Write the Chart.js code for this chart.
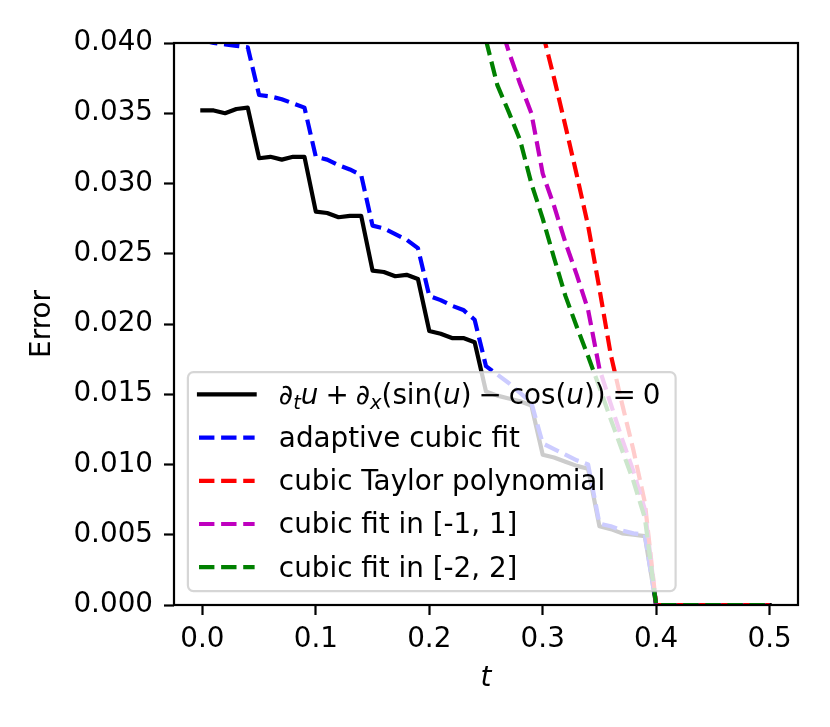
<!DOCTYPE html>
<html>
<head>
<meta charset="utf-8">
<script src="https://cdn.jsdelivr.net/npm/chart.js@4.4.0/dist/chart.umd.min.js"></script>
<style>
  html, body { margin: 0; padding: 0; background: #ffffff; }
  #wrap { width: 830px; height: 727px; }
</style>
</head>
<body>
<div id="wrap"><canvas id="errorChart"></canvas></div>
<script>
// ============================================================================
// DATA
// ============================================================================

const tValues = [
  0.00, 0.01, 0.02, 0.03, 0.04, 0.05, 0.06, 0.07, 0.08, 0.09,
  0.10, 0.11, 0.12, 0.13, 0.14, 0.15, 0.16, 0.17, 0.18, 0.19,
  0.20, 0.21, 0.22, 0.23, 0.24, 0.25, 0.26, 0.27, 0.28, 0.29,
  0.30, 0.31, 0.32, 0.33, 0.34, 0.35, 0.36, 0.37, 0.38, 0.39,
  0.40, 0.41, 0.42, 0.43, 0.44, 0.45, 0.46, 0.47, 0.48, 0.49, 0.50
];

// exact PDE solution error
const exactErr = [
  0.0352, 0.0352, 0.0350, 0.0353, 0.0354, 0.0318, 0.0319, 0.0317, 0.0319, 0.0319,
  0.0280, 0.0279, 0.0276, 0.0277, 0.0277, 0.0238, 0.0237, 0.0234, 0.0235, 0.0232,
  0.0195, 0.0193, 0.0190, 0.0190, 0.0187, 0.0152, 0.0149, 0.0147, 0.0145, 0.0142,
  0.0107, 0.0105, 0.0102, 0.0099, 0.0097, 0.0056, 0.0054, 0.0051, 0.0050, 0.0049,
  0, 0, 0, 0, 0, 0, 0, 0, 0, 0, 0
];

const adaptiveErr = [
  0.0402, 0.0400, 0.0399, 0.0398, 0.0397, 0.0363, 0.0362, 0.0360, 0.0357, 0.0354,
  0.0319, 0.0317, 0.0313, 0.0310, 0.0306, 0.0270, 0.0268, 0.0264, 0.0260, 0.0254,
  0.0220, 0.0217, 0.0213, 0.0210, 0.0203, 0.0170, 0.0164, 0.0158, 0.0151, 0.0144,
  0.0115, 0.0111, 0.0107, 0.0103, 0.0100, 0.0058, 0.0056, 0.0053, 0.0051, 0.0050,
  0, 0, 0, 0, 0, 0, 0, 0, 0, 0, 0
];

// null = above the visible range
const taylorErr = [
  null, null, null, null, null, null, null, null, null, null,
  null, null, null, null, null, null, null, null, null, null,
  null, null, null, null, null, null, null, null, null, null,
  0.0407, 0.0375, 0.0341, 0.0306, 0.0270, 0.0225, 0.0178, 0.0143, 0.0110, 0.0073,
  0, 0, 0, 0, 0, 0, 0, 0, 0, 0, 0
];

const fit1Err = [
  null, null, null, null, null, null, null, null, null, null,
  null, null, null, null, null, null, null, null, null, null,
  null, null, null, null, null, null, 0.0420, 0.0394, 0.0371, 0.0350,
  0.0307, 0.0284, 0.0258, 0.0235, 0.0210, 0.0168, 0.0143, 0.0118, 0.0095, 0.0068,
  0, 0, 0, 0, 0, 0, 0, 0, 0, 0, 0
];

const fit2Err = [
  null, null, null, null, null, null, null, null, null, null,
  null, null, null, null, null, null, null, null, null, null,
  null, null, null, null, null, 0.0402, 0.0370, 0.0351, 0.0331, 0.0300,
  0.0275, 0.0247, 0.0220, 0.0198, 0.0177, 0.0155, 0.0132, 0.0110, 0.0088, 0.0062,
  0, 0, 0, 0, 0, 0, 0, 0, 0, 0, 0
];

const xTicks = [0.0, 0.1, 0.2, 0.3, 0.4, 0.5];
const yTicks = [0.000, 0.005, 0.010, 0.015, 0.020, 0.025, 0.030, 0.035, 0.040];

const seriesLabels = [
  'exact', // drawn as math text in the legend
  'adaptive cubic fit',
  'cubic Taylor polynomial',
  'cubic fit in [-1, 1]',
  'cubic fit in [-2, 2]'
];

// ============================================================================
// STYLE
// ============================================================================

const FONT = '"DejaVu Sans", sans-serif';
const FS = 27.8;
const LW = 4.2;
const DASH = [15.4, 6.7];
const SP = '\u2005';

// legend label for the PDE: ∂_t u + ∂_x(sin(u) − cos(u)) = 0
const mathLabel = [
  { text: '∂', it: true }, { text: 't', it: true, sub: true }, { text: 'u', it: true },
  { text: SP + '+' + SP },
  { text: '∂', it: true }, { text: 'x', it: true, sub: true },
  { text: '(sin(' }, { text: 'u', it: true }, { text: ')' + SP + '−' + SP + 'cos(' },
  { text: 'u', it: true }, { text: '))' + SP + '=' + SP + '0' }
];

function toPoints(values) {
  return tValues.map((t, i) => ({ x: t, y: values[i] }));
}

function makeDataset(label, values, color, dashed, order) {
  return {
    label: label,
    data: toPoints(values),
    borderColor: color,
    backgroundColor: color,
    borderWidth: LW,
    borderDash: dashed ? DASH : [],
    borderCapStyle: dashed ? 'butt' : 'square',
    borderJoinStyle: 'round',
    pointRadius: 0,
    pointHoverRadius: 0,
    tension: 0,
    fill: false,
    spanGaps: false,
    clip: 0,
    order: order
  };
}

function drawRich(ctx, parts, x, y, draw) {
  let cx = x;
  for (const p of parts) {
    const size = p.sub ? FS * 0.7 : FS;
    ctx.font = (p.it ? 'italic ' : '') + size + 'px ' + FONT;
    if (draw) ctx.fillText(p.text, cx, y + (p.sub ? FS * 0.2 : 0));
    cx += ctx.measureText(p.text).width;
  }
  return cx - x;
}

// Frame on top of lines + matplotlib-like legend in the lower left corner
const frameAndLegend = {
  id: 'frameAndLegend',
  afterDatasetsDraw(chart) {
    const ctx = chart.ctx;
    const a = chart.chartArea;
    ctx.save();

    ctx.strokeStyle = '#000000';
    ctx.lineWidth = 2.2;
    ctx.setLineDash([]);
    ctx.strokeRect(a.left, a.top, a.right - a.left, a.bottom - a.top);

    const pad = 0.4 * FS;
    const axPad = 0.5 * FS;
    const handleLen = 2.0 * FS;
    const textPad = 0.8 * FS;
    const rowStep = 43.2;
    const datasets = chart.data.datasets;

    let maxW = drawRich(ctx, mathLabel, 0, 0, false) + 6;
    ctx.font = FS + 'px ' + FONT;
    for (let i = 1; i < datasets.length; i++) {
      maxW = Math.max(maxW, ctx.measureText(datasets[i].label).width);
    }

    const left = a.left + axPad;
    const bottom = a.bottom - axPad;
    const height = 219;
    const top = bottom - height;
    const width = pad + handleLen + textPad + maxW + pad;

    ctx.beginPath();
    ctx.roundRect(left, top, width, height, 0.2 * FS);
    ctx.fillStyle = 'rgba(255,255,255,0.8)';
    ctx.fill();
    ctx.strokeStyle = 'rgba(204,204,204,0.8)';
    ctx.lineWidth = 2.2;
    ctx.stroke();

    const firstRow = top + 22.3;
    datasets.forEach((ds, i) => {
      const y = firstRow + i * rowStep;
      const x0 = left + pad;
      ctx.beginPath();
      ctx.strokeStyle = ds.borderColor;
      ctx.lineWidth = LW;
      ctx.lineCap = ds.borderCapStyle;
      ctx.setLineDash(ds.borderDash);
      ctx.moveTo(x0, y);
      ctx.lineTo(x0 + handleLen, y);
      ctx.stroke();
      ctx.setLineDash([]);

      ctx.fillStyle = '#000000';
      ctx.textBaseline = 'alphabetic';
      ctx.textAlign = 'left';
      const tx = x0 + handleLen + textPad + 2;
      if (i === 0) {
        drawRich(ctx, mathLabel, tx, y + 9.3, true);
      } else {
        ctx.font = FS + 'px ' + FONT;
        ctx.fillText(ds.label, tx, y + 9.3);
      }
    });

    ctx.restore();
  }
};

// ============================================================================
// CHART
// ============================================================================

function initErrorChart() {
  const canvas = document.getElementById('errorChart');

  new Chart(canvas, {
    type: 'line',
    data: {
      datasets: [
        makeDataset(seriesLabels[0], exactErr, '#000000', false, 5),
        makeDataset(seriesLabels[1], adaptiveErr, '#0000ff', true, 4),
        makeDataset(seriesLabels[2], taylorErr, '#ff0000', true, 3),
        makeDataset(seriesLabels[3], fit1Err, '#bf00bf', true, 2),
        makeDataset(seriesLabels[4], fit2Err, '#008000', true, 1)
      ]
    },
    options: {
      responsive: true,
      maintainAspectRatio: false,
      devicePixelRatio: 1,
      animation: false,
      events: [],
      layout: { padding: { left: 0, right: 32, top: 43, bottom: 0 } },
      plugins: {
        legend: { display: false },
        tooltip: { enabled: false }
      },
      scales: {
        x: {
          type: 'linear',
          min: -0.025,
          max: 0.525,
          afterBuildTicks: scale => { scale.ticks = xTicks.map(v => ({ value: v })); },
          afterFit: scale => { scale.height = 122; },
          ticks: {
            callback: v => v.toFixed(1),
            color: '#000000',
            font: { family: FONT, size: FS },
            padding: 8,
            maxRotation: 0,
            autoSkip: false
          },
          grid: {
            drawOnChartArea: false,
            drawTicks: true,
            tickLength: 10,
            tickWidth: 2.2,
            tickColor: '#000000'
          },
          border: { display: false },
          title: {
            display: true,
            text: 't',
            color: '#000000',
            font: { family: FONT, size: FS, style: 'italic' },
            padding: { top: 0, bottom: 32 }
          }
        },
        y: {
          type: 'linear',
          min: 0,
          max: 0.04,
          afterBuildTicks: scale => { scale.ticks = yTicks.map(v => ({ value: v })); },
          afterFit: scale => { scale.width = 174; },
          ticks: {
            callback: v => v.toFixed(3),
            color: '#000000',
            font: { family: FONT, size: FS },
            padding: 11,
            autoSkip: false
          },
          grid: {
            drawOnChartArea: false,
            drawTicks: true,
            tickLength: 10,
            tickWidth: 2.2,
            tickColor: '#000000'
          },
          border: { display: false },
          title: {
            display: true,
            text: 'Error',
            color: '#000000',
            font: { family: FONT, size: FS },
            padding: { top: 26, bottom: 0 }
          }
        }
      }
    },
    plugins: [frameAndLegend]
  });
}

initErrorChart();
</script>
</body>
</html>
